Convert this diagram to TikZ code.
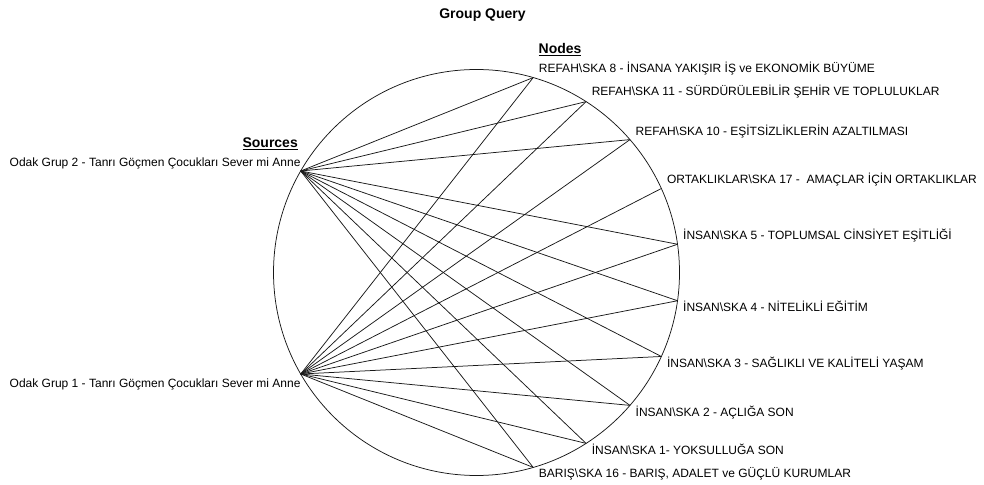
\documentclass[tikz,border=0pt]{standalone}
\usepackage{fontspec}
\setmainfont{Liberation Sans}
\usetikzlibrary{calc}

\tikzset{
  ring/.style={draw=black!90, line width=0.75pt},
  tie/.style={draw=black!90, line width=0.75pt},
  sklabel/.style={font=\fontsize{12}{14}\selectfont, inner sep=0pt},
  headlabel/.style={font=\fontsize{14}{16}\selectfont\bfseries, inner sep=0pt},
}

\begin{document}
\begin{tikzpicture}[x=1pt, y=1pt]
  \useasboundingbox (0,0) rectangle (984,484);
  \coordinate (c) at (476.5,211.5);
  \draw[ring] (c) circle (203);
  % headers
  \node (title) [headlabel, anchor=base] at (482.5,465.7) {Group Query};
  \node (nodeshead) [headlabel, anchor=base west] at (538.5,430.7) {\underline{Nodes}};
  \node (srchead) [headlabel, anchor=base east] at (298,336.3) {\underline{Sources}};
  % sources
  \coordinate (s2) at ($(c)+(150:203)$);
  \coordinate (s1) at ($(c)+(210:203)$);
  \node (ls2) [sklabel, anchor=base east] at ($(s2)+(0,4.5)$) {Odak Grup 2 - Tanrı Göçmen Çocukları Sever mi Anne};
  \node (ls1) [sklabel, anchor=base east] at ($(s1)+(0,-14)$) {Odak Grup 1 - Tanrı Göçmen Çocukları Sever mi Anne};
  % nodes on the ring
  \foreach \k/\a/\dy/\txt in {
      8/73.78/5/{REFAH\textbackslash SKA 8 - İNSANA YAKIŞIR İŞ ve EKONOMİK BÜYÜME},
      11/57.33/6/{REFAH\textbackslash SKA 11 - SÜRDÜRÜLEBİLİR ŞEHİR VE TOPLULUKLAR},
      10/40.89/4.5/{REFAH\textbackslash SKA 10 - EŞİTSİZLİKLERİN AZALTILMASI},
      17/24.44/5/{ORTAKLIKLAR\textbackslash SKA 17 -\ \ AMAÇLAR İÇİN ORTAKLIKLAR},
      5/8/5/{İNSAN\textbackslash SKA 5 - TOPLUMSAL CİNSİYET EŞİTLİĞİ},
      4/-8/-11/{İNSAN\textbackslash SKA 4 - NİTELİKLİ EĞİTİM},
      3/-24.44/-11.5/{İNSAN\textbackslash SKA 3 - SAĞLIKLI VE KALİTELİ YAŞAM},
      2/-40.89/-11/{İNSAN\textbackslash SKA 2 - AÇLIĞA SON},
      1/-57.33/-10.7/{İNSAN\textbackslash SKA 1- YOKSULLUĞA SON},
      16/-73.78/-10.3/{BARIŞ\textbackslash SKA 16 - BARIŞ, ADALET ve GÜÇLÜ KURUMLAR}} {
    \coordinate (n\k) at ($(c)+(\a:203)$);
    \node (l\k) [sklabel, anchor=base west] at ($(n\k)+(5.5,\dy)$) {\txt};
  }
  % ties
  \foreach \k in {8,11,10,5,4,3,2,1,16} \draw[tie] (s2) -- (n\k);
  \foreach \k in {8,11,10,17,5,4,3,2,1,16} \draw[tie] (s1) -- (n\k);
\end{tikzpicture}
\end{document}
